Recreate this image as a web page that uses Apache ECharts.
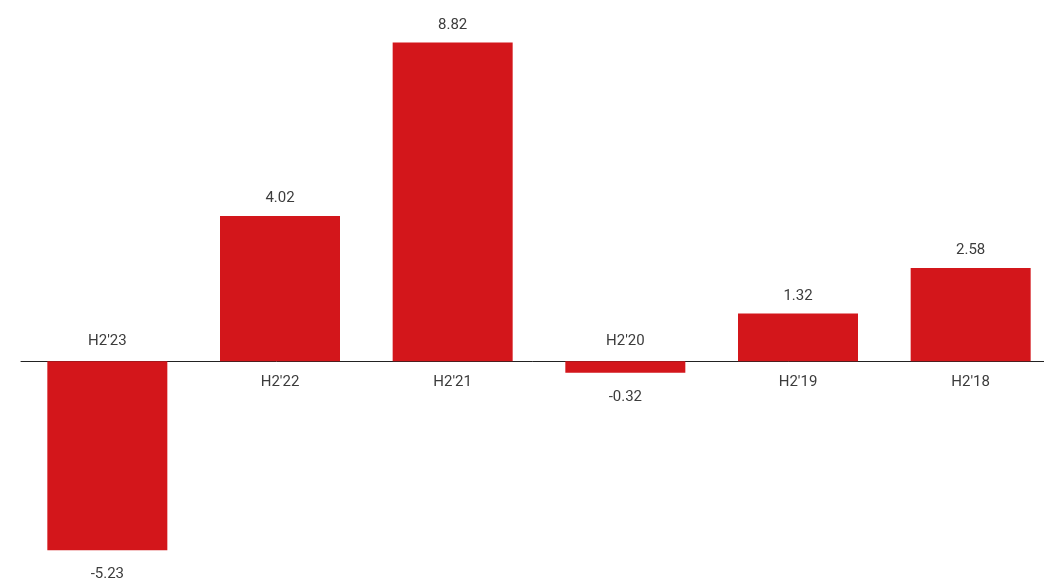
<!DOCTYPE html>
<html>
<head>
<meta charset="utf-8">
<script src="https://cdn.jsdelivr.net/npm/echarts@6/dist/echarts.min.js"></script>
<style>
    html, body { margin: 0; padding: 0; background: #fff; }
    #chart { width: 1044px; height: 584px; }
</style>
</head>
<body>
<div id="chart"></div>
<script>
// half-year periods, newest first
const periods = ["H2'23", "H2'22", "H2'21", "H2'20", "H2'19", "H2'18"];
const values = [-5.23, 4.02, 8.82, -0.32, 1.32, 2.58];

const barRed = '#d3161b';
const textGrey = '#3c3c3c';

const chart = echarts.init(document.getElementById('chart'));

// value label sits outside the bar end, period label on the other side of zero
const valueData = values.map(v => ({
    value: v,
    label: { distance: v >= 0 ? 10 : 17 }
}));
const periodData = values.map((v, i) => ({
    value: v,
    label: {
        position: v >= 0 ? 'bottom' : 'top',
        distance: v >= 0 ? 14 : 12,
        formatter: periods[i]
    }
}));

chart.setOption({
    animation: false,
    // grid runs a bit past the right edge, like the source
    grid: { left: 21, width: 1036, top: 36, bottom: 6, outerBoundsMode: 'none', containLabel: false },
    xAxis: {
        type: 'category',
        data: periods,
        axisLine: { onZero: true, lineStyle: { color: '#222', width: 1 } },
        axisTick: { show: false },
        axisLabel: { show: false }
    },
    yAxis: {
        type: 'value',
        min: -6,
        max: 9,
        show: false,
        splitLine: { show: false }
    },
    series: [
        {
            type: 'bar',
            data: valueData,
            barWidth: 120,
            itemStyle: { color: barRed },
            label: {
                show: true,
                position: 'outside',
                color: textGrey,
                fontFamily: 'Roboto',
                fontSize: 15
            },
            z: 2
        },
        {
            type: 'bar',
            data: periodData,
            barWidth: 120,
            barGap: '-100%',
            silent: true,
            itemStyle: { color: 'rgba(0,0,0,0)' },
            label: {
                show: true,
                color: textGrey,
                fontFamily: 'Roboto',
                fontSize: 15
            },
            z: 3
        }
    ]
});
</script>
</body>
</html>
